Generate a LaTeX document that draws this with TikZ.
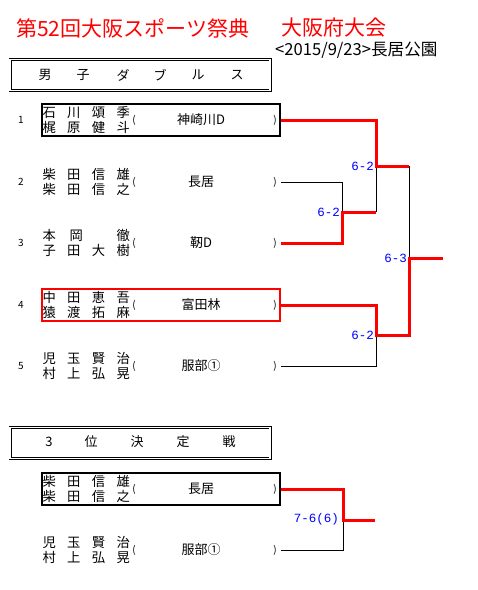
\documentclass[tikz,border=0pt]{standalone}
\usepackage{fontspec}
\setmainfont{Noto Sans CJK JP}
\newfontfamily\scorefont{Liberation Mono}
\begin{document}
\begin{tikzpicture}[x=1pt,y=-1pt,
  redline/.style={red, line width=3pt},
  blkline/.style={black, line width=0.8pt},
  entrybox/.style={minimum width=238pt, minimum height=32pt, inner sep=0pt, line width=2.5pt},
  hdrbox/.style={draw, double, double distance=1.6pt, line width=0.7pt, minimum width=260pt, minimum height=31pt, inner sep=0pt},
  nametext/.style={font=\fontsize{13.3}{13}\selectfont, inner sep=0pt, anchor=west},
  clubtext/.style={font=\fontsize{13}{13}\selectfont, inner sep=0pt},
  paren/.style={font=\fontsize{10}{10}\selectfont, inner sep=0pt},
  numtext/.style={font=\fontsize{10}{10}\selectfont, inner sep=0pt},
  hdrtext/.style={font=\fontsize{13}{13}\selectfont, inner sep=0pt},
  score/.style={blue, font=\scorefont\fontsize{12.5}{13}\selectfont, inner sep=0pt, anchor=east}
]
\useasboundingbox (0,0) rectangle (478,590);
\newcommand\nmline[4]{\makebox[24.7pt]{#1}\makebox[24.7pt]{#2}\makebox[24.7pt]{#3}\makebox[24.7pt]{#4}}
% title
\node[red, font=\fontsize{21}{21}\selectfont, inner sep=0pt, anchor=west] (t1) at (16,28) {第52回大阪スポーツ祭典};
\node[red, font=\fontsize{21}{21}\selectfont, inner sep=0pt, anchor=west] (t2) at (281,28) {大阪府大会};
\node[font=\fontsize{16.6}{16}\selectfont, inner sep=0pt, anchor=west] (sub) at (275,50) {<2015/9/23>長居公園};
% header
\node[hdrbox] (hdr) at (140,75) {};
\foreach \x/\c in {45/男,83/子,123/ダ,160/ブ,198/ル,237/ス}{\node[hdrtext] at (\x,75) {\c};}
% entries
\foreach \n/\y/\st/\la/\lb/\club/\num in {
  b1/120/black/{\nmline{石}{川}{頌}{季}}/{\nmline{梶}{原}{健}{斗}}/{神崎川D}/1,
  b2/182/none/{\nmline{柴}{田}{信}{雄}}/{\nmline{柴}{田}{信}{之}}/{長居}/2,
  b3/243/none/{\nmline{本}{\hspace{5pt}岡}{}{徹}}/{\nmline{子}{田}{大}{樹}}/{靭D}/3,
  b4/305/red/{\nmline{中}{田}{恵}{吾}}/{\nmline{猿}{渡}{拓}{麻}}/{富田林}/4,
  b5/366/none/{\nmline{児}{玉}{賢}{治}}/{\nmline{村}{上}{弘}{晃}}/{服部①}/5,
  c1/489/black/{\nmline{柴}{田}{信}{雄}}/{\nmline{柴}{田}{信}{之}}/{長居}/{},
  c2/550/none/{\nmline{児}{玉}{賢}{治}}/{\nmline{村}{上}{弘}{晃}}/{服部①}/{}}{
  \node[entrybox,draw=\st] (\n) at (161,\y) {};
  \node[nametext] (\n a) at (36.6,\y-7.5) {\la};
  \node[nametext] (\n b) at (36.6,\y+7.5) {\lb};
  \node[paren] (\n l) at (134,\y) {(};
  \node[clubtext] (\n c) at (201,\y) {\club};
  \node[paren] (\n r) at (275,\y) {)};
  \node[numtext] (\n n) at (21,\y) {\num};
}
% bracket coordinates
\coordinate (j0) at (342,212);
\coordinate (j1) at (376,166);
\coordinate (j2) at (376,335);
\coordinate (jf) at (409,258);
\coordinate (out) at (443,258);
\coordinate (j3) at (343,520);
\coordinate (out3) at (375,520);
% black lines
\draw[blkline] (b2.east) -| (j0);
\draw[blkline] (j1 |- j0) -- (j1);
\draw[blkline] (b5.east) -| (j2);
\draw[blkline] (jf |- j1) -- (jf);
\draw[blkline] (c2.east) -| (j3);
% red lines
\draw[redline] (b1.east) -| (j1) -- (jf |- j1);
\draw[redline] (b3.east) -| (j0) -- (j1 |- j0);
\draw[redline] (b4.east) -| (j2) -- (jf |- j2) -- (jf) -- (out);
\draw[redline] (c1.east) -| (j3) -- (out3);
% scores
\node[score] (s1) at (374,166) {6-2};
\node[score] (s0) at (340,212) {6-2};
\node[score] (s2) at (374,335) {6-2};
\node[score] (sf) at (407,258) {6-3};
\node[score] (s3) at (339,519) {7-6(6)};
% third place header
\node[hdrbox] (hdr2) at (140,443) {};
\foreach \x/\c in {49/3,91/位,137/決,183/定,229/戦}{\node[hdrtext] at (\x,442) {\c};}
\end{tikzpicture}
\end{document}
